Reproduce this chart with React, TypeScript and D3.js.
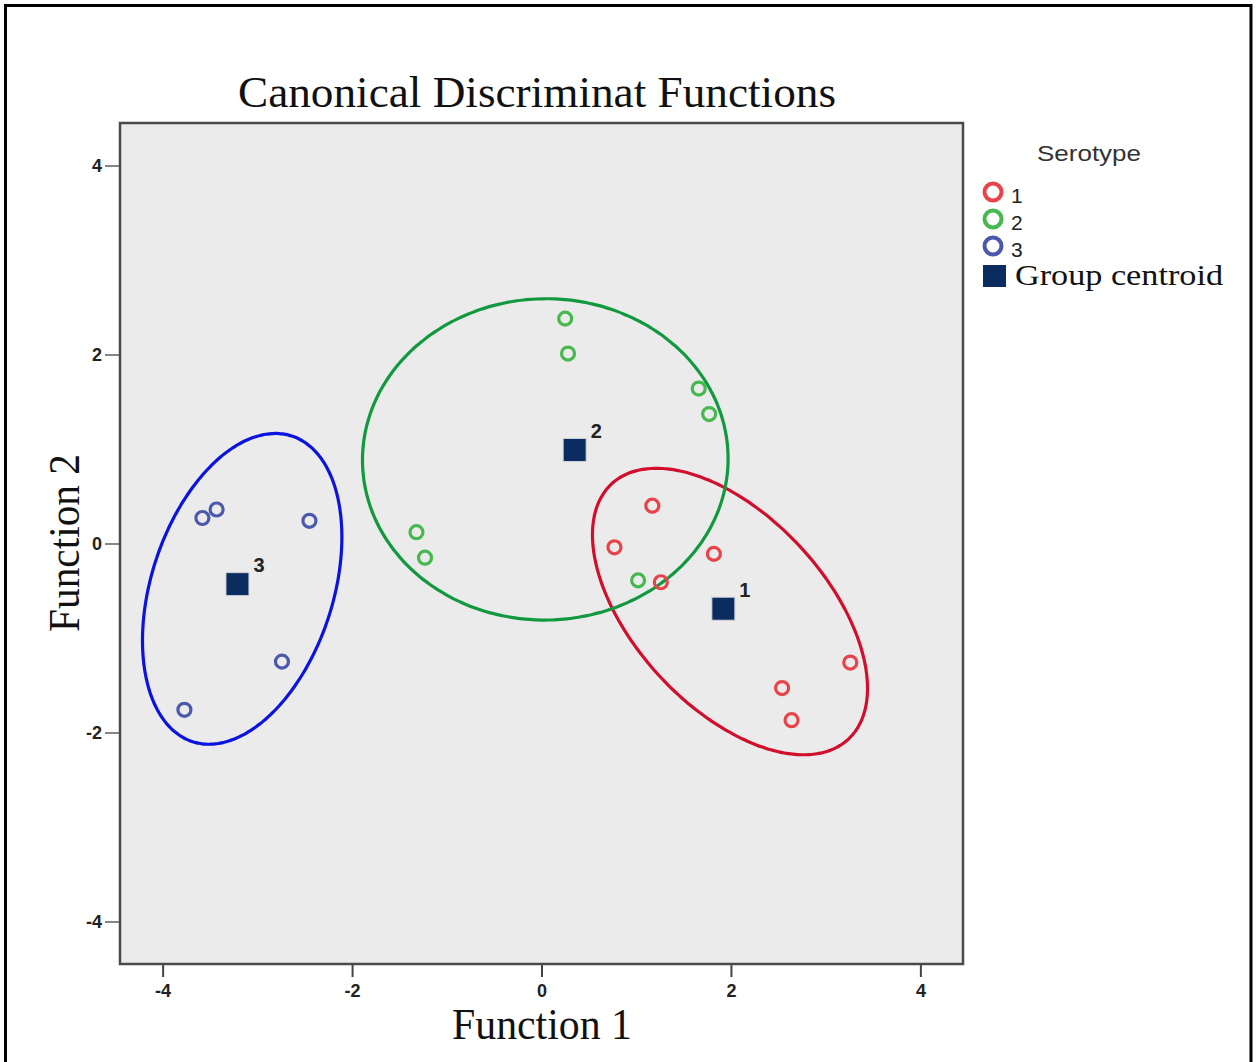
import React, { useRef, useEffect } from 'react';
import * as d3 from 'd3';

// Function 1 / Function 2 scores per serotype
const serotype1X = [1.17, 0.77, 1.82, 1.26, 3.26, 2.54, 2.64];
const serotype1Y = [0.4, -0.04, -0.11, -0.41, -1.26, -1.53, -1.87];
const serotype2X = [0.25, 0.28, 1.66, 1.77, -1.32, -1.23, 1.02];
const serotype2Y = [2.38, 2.01, 1.64, 1.37, 0.12, -0.15, -0.39];
const serotype3X = [-3.58, -3.43, -2.45, -2.74, -3.77];
const serotype3Y = [0.27, 0.36, 0.24, -1.25, -1.76];

const groupLabels = ['1', '2', '3'];
const centroidX = [1.92, 0.35, -3.21];
const centroidY = [-0.69, 0.99, -0.43];

// ellipse around each group: center, semi axes, angle of major axis (deg)
const ellipseCx = [1.99, 0.04, -3.16];
const ellipseCy = [-0.72, 0.89, -0.48];
const ellipseA = [1.84, 1.93, 1.7];
const ellipseB = [1.01, 1.7, 0.96];
const ellipseAngle = [-47.3, 1, 72.1];

const tickValues = [-4, -2, 0, 2, 4];
const domain = [-4.45, 4.45];

const pointColors = ['#e8434b', '#45b84e', '#4a58ad'];
const ellipseColors = ['#d10f2d', '#12993f', '#0b14de'];

const App = () => {
  const svgRef = useRef<SVGSVGElement>(null);
  const width = 1257;
  const height = 1062;

  useEffect(() => {
    document.body.style.margin = '0';
    const svg = d3.select(svgRef.current);
    svg.selectAll('*').remove();

    const left = 120, right = 963, top = 123, bottom = 964;
    const x = d3.scaleLinear().domain(domain).range([left, right]);
    const y = d3.scaleLinear().domain(domain).range([bottom, top]);
    const sans = 'Arial, "Liberation Sans", sans-serif';
    const serif = '"Liberation Serif", serif';

    // outer frame
    svg.append('rect')
      .attr('x', 5.5).attr('y', 5.5)
      .attr('width', 1245.5).attr('height', 1100)
      .attr('fill', 'none').attr('stroke', '#000').attr('stroke-width', 3);

    // plot background
    svg.append('rect')
      .attr('x', left).attr('y', top)
      .attr('width', right - left).attr('height', bottom - top)
      .attr('fill', '#ebebeb');

    // title
    svg.append('text')
      .attr('x', 537).attr('y', 107)
      .attr('text-anchor', 'middle')
      .attr('font-family', serif)
      .attr('font-size', 44)
      .attr('textLength', 598)
      .attr('lengthAdjust', 'spacingAndGlyphs')
      .attr('fill', '#111')
      .text('Canonical Discriminat Functions');

    // axes
    const fmt = (d: number) => String(d);
    const xAxis = d3.axisBottom(x).tickValues(tickValues).tickFormat(fmt as any).tickSize(13).tickPadding(7);
    const gx = svg.append('g').attr('transform', `translate(0, ${bottom})`).call(xAxis);
    gx.select('.domain').remove();
    gx.selectAll('line').attr('stroke', '#444').attr('stroke-width', 2);
    gx.selectAll('text')
      .attr('font-family', sans)
      .attr('font-size', 18).attr('font-weight', 'bold').attr('fill', '#222');

    const yAxis = d3.axisLeft(y).tickValues(tickValues).tickFormat(fmt as any).tickSize(15).tickPadding(3);
    const gy = svg.append('g').attr('transform', `translate(${left}, 0)`).call(yAxis);
    gy.select('.domain').remove();
    gy.selectAll('line').attr('stroke', '#444').attr('stroke-width', 1.3);
    gy.selectAll('text')
      .attr('font-family', sans)
      .attr('font-size', 18).attr('font-weight', 'bold').attr('fill', '#222');

    // plot border
    svg.append('rect')
      .attr('x', left).attr('y', top)
      .attr('width', right - left).attr('height', bottom - top)
      .attr('fill', 'none').attr('stroke', '#4a4a4a').attr('stroke-width', 2.5);

    // axis titles
    svg.append('text')
      .attr('x', 542).attr('y', 1039)
      .attr('text-anchor', 'middle')
      .attr('font-family', serif)
      .attr('font-size', 44)
      .attr('textLength', 180)
      .attr('lengthAdjust', 'spacingAndGlyphs')
      .attr('fill', '#111')
      .text('Function 1');

    svg.append('text')
      .attr('transform', `translate(79, 543) rotate(-90)`)
      .attr('text-anchor', 'middle')
      .attr('font-family', serif)
      .attr('font-size', 44)
      .attr('textLength', 178)
      .attr('lengthAdjust', 'spacingAndGlyphs')
      .attr('fill', '#111')
      .text('Function 2');

    // ellipses
    ellipseCx.forEach((cx, g) => {
      const phi = (ellipseAngle[g] * Math.PI) / 180;
      const a = ellipseA[g], b = ellipseB[g], cy = ellipseCy[g];
      const path = d3.line<number>()
        .x((t) => x(cx + a * Math.cos(t) * Math.cos(phi) - b * Math.sin(t) * Math.sin(phi)))
        .y((t) => y(cy + a * Math.cos(t) * Math.sin(phi) + b * Math.sin(t) * Math.cos(phi)))
        .curve(d3.curveCardinalClosed);
      svg.append('path')
        .datum(d3.range(0, 2 * Math.PI, Math.PI / 90))
        .attr('d', path)
        .attr('fill', 'none')
        .attr('stroke', ellipseColors[g])
        .attr('stroke-width', 3.2);
    });

    // points
    const groupsX = [serotype1X, serotype2X, serotype3X];
    const groupsY = [serotype1Y, serotype2Y, serotype3Y];
    groupsX.forEach((xs, g) => {
      svg.append('g')
        .selectAll('circle')
        .data(xs)
        .join('circle')
        .attr('cx', (d) => x(d))
        .attr('cy', (d, i) => y(groupsY[g][i]))
        .attr('r', 6.5)
        .attr('fill', 'none')
        .attr('stroke', pointColors[g])
        .attr('stroke-width', 3.2);
    });

    // centroids
    const sq = 23;
    svg.append('g')
      .selectAll('rect')
      .data(centroidX)
      .join('rect')
      .attr('x', (d) => x(d) - sq / 2)
      .attr('y', (d, i) => y(centroidY[i]) - sq / 2)
      .attr('width', sq).attr('height', sq)
      .attr('fill', '#0b2c5e')
      .attr('stroke', '#cfd3da').attr('stroke-width', 1);

    svg.append('g')
      .selectAll('text')
      .data(centroidX)
      .join('text')
      .attr('x', (d) => x(d) + 16)
      .attr('y', (d, i) => y(centroidY[i]) - 12)
      .attr('font-family', sans)
      .attr('font-size', 20)
      .attr('font-weight', 'bold')
      .attr('fill', '#222')
      .text((d, i) => groupLabels[i]);

    // legend
    const legend = svg.append('g');
    legend.append('text')
      .attr('x', 1089).attr('y', 161)
      .attr('text-anchor', 'middle')
      .attr('font-family', sans)
      .attr('font-size', 22)
      .attr('textLength', 104)
      .attr('lengthAdjust', 'spacingAndGlyphs')
      .attr('fill', '#333')
      .text('Serotype');

    groupLabels.forEach((lab, g) => {
      const cy = 192 + g * 27;
      legend.append('circle')
        .attr('cx', 993).attr('cy', cy)
        .attr('r', 8.5)
        .attr('fill', 'none')
        .attr('stroke', pointColors[g])
        .attr('stroke-width', 4);
      legend.append('text')
        .attr('x', 1011).attr('y', cy + 11)
        .attr('font-family', sans)
        .attr('font-size', 21)
        .attr('fill', '#222')
        .text(lab);
    });

    legend.append('rect')
      .attr('x', 983).attr('y', 265)
      .attr('width', 23).attr('height', 22)
      .attr('fill', '#0b2c5e');
    legend.append('text')
      .attr('x', 1015).attr('y', 285)
      .attr('font-family', serif)
      .attr('font-size', 30)
      .attr('textLength', 208)
      .attr('lengthAdjust', 'spacingAndGlyphs')
      .attr('fill', '#111')
      .text('Group centroid');
  }, []);

  return (
    <div>
      <svg ref={svgRef} width={width} height={height} style={{ display: 'block' }}></svg>
    </div>
  );
};

export default App;
